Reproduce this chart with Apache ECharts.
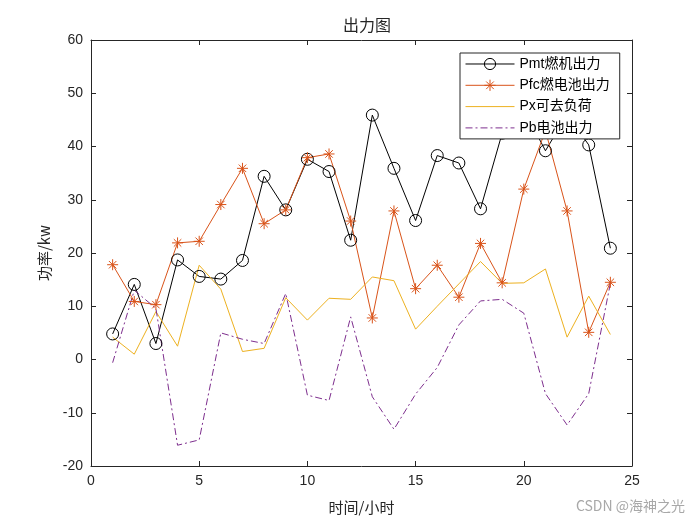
<!DOCTYPE html>
<html>
<head>
<meta charset="utf-8">
<script src="https://cdn.jsdelivr.net/npm/echarts@6/dist/echarts.min.js"></script>
<style>html,body{margin:0;padding:0;background:#fff}#c{width:700px;height:525px}</style>
</head>
<body>
<div id="c"></div>
<script>
var hours = [1,2,3,4,5,6,7,8,9,10,11,12,13,14,15,16,17,18,19,20,21,22,23,24];
var pmt = [4.8,14.1,3.0,18.7,15.6,15.1,18.6,34.4,28.1,37.6,35.3,22.4,45.9,35.9,26.1,38.3,36.9,28.3,42.5,47.0,39.2,46.0,40.3,20.9];
var pfc = [17.8,10.9,10.3,21.9,22.2,29.1,35.9,25.5,28.1,37.9,38.6,26.0,7.8,27.9,13.3,17.7,11.7,21.8,14.4,32.0,43.0,27.9,5.1,14.5];
var px  = [4.2,1.0,9.0,2.5,17.7,13.2,1.5,2.1,11.6,7.4,11.5,11.3,15.5,14.8,5.7,10.0,14.2,18.4,14.3,14.4,17.0,4.2,11.9,4.7];
var pb  = [-0.6,13.0,9.6,-16.1,-15.1,5.0,3.8,3.0,12.4,-6.7,-7.7,8.0,-7.0,-13.1,-6.5,-1.5,6.5,11.0,11.3,8.7,-6.4,-12.3,-6.4,14.3];
var seriesNames = ['Pmt燃机出力','Pfc燃电池出力','Px可去负荷','Pb电池出力'];
var xTicks = {min:0, max:25, interval:5};
var yTicks = {min:-20, max:60, interval:10};

function pairs(v){ return hours.map(function(h,i){ return [h, v[i]]; }); }

var axisColor = '#262626';
var latin = '"Liberation Sans", Arial, "Noto Sans CJK SC", sans-serif';
var cjk = '"Noto Sans CJK SC", "Liberation Sans", sans-serif';
var starPath = 'path://M0,5L10,5M5,0L5,10M1.6,1.6L8.4,8.4M8.4,1.6L1.6,8.4';
var clear = 'rgba(0,0,0,0)';

function xAx(pos, main){
  return {
    type:'value', position:pos, min:xTicks.min, max:xTicks.max, interval:xTicks.interval,
    axisLine:{show:true, onZero:false, lineStyle:{color:axisColor, width:1}},
    axisTick:{show:true, inside:true, length:5, lineStyle:{color:axisColor}},
    axisLabel:{show:main, fontSize:14, color:axisColor, fontFamily:latin, margin:8},
    splitLine:{show:false},
    name: main ? '时间/小时' : '', nameLocation:'middle', nameGap:34,
    nameTextStyle:{fontSize:15, color:axisColor, fontFamily:cjk}
  };
}
function yAx(pos, main){
  return {
    type:'value', position:pos, min:yTicks.min, max:yTicks.max, interval:yTicks.interval,
    axisLine:{show:true, onZero:false, lineStyle:{color:axisColor, width:1}},
    axisTick:{show:true, inside:true, length:5, lineStyle:{color:axisColor}},
    axisLabel:{show:main, fontSize:14, color:axisColor, fontFamily:latin, margin:8},
    splitLine:{show:false},
    name: main ? '功率/kw' : '', nameLocation:'middle', nameGap:38, nameRotate:90,
    nameTextStyle:{fontSize:15, color:axisColor, fontFamily:cjk}
  };
}

var chart = echarts.init(document.getElementById('c'), null, {renderer:'canvas'});
chart.setOption({
  animation:false,
  backgroundColor:'#fff',
  title:{text:'出力图', left:362, top:12, textAlign:'center',
    textStyle:{fontSize:16, fontWeight:'normal', color:axisColor, fontFamily:cjk}},
  grid:{left:91, right:68, top:40, bottom:59, containLabel:false},
  xAxis:[xAx('bottom', true), xAx('top', false)],
  yAxis:[yAx('left', true), yAx('right', false)],
  legend:{
    orient:'vertical', left:460, top:53, padding:[4,10,4,5], itemGap:7.3,
    itemWidth:49, itemHeight:14,
    backgroundColor:'#fff', borderColor:'#262626', borderWidth:1, borderRadius:0,
    itemStyle:{borderWidth:1},
    lineStyle:{width:1},
    textStyle:{fontSize:14, color:'#000', fontFamily:latin},
    data:seriesNames
  },
  graphic:[{type:'text', right:15, top:499,
    style:{text:'CSDN @海神之光', fontSize:14, fill:'#a8a8a8', fontFamily:cjk}}],
  series:[
    {name:seriesNames[0], type:'line', data:pairs(pmt), symbol:'circle', symbolSize:12,
     lineStyle:{color:'#000', width:1}, itemStyle:{color:clear, borderColor:'#000', borderWidth:1}},
    {name:seriesNames[1], type:'line', data:pairs(pfc), symbol:starPath, symbolSize:11,
     lineStyle:{color:'#D95319', width:1}, itemStyle:{color:clear, borderColor:'#D95319', borderWidth:1}},
    {name:seriesNames[2], type:'line', data:pairs(px), symbol:'circle', symbolSize:1, showSymbol:false,
     lineStyle:{color:'#EDB120', width:1}, itemStyle:{color:clear, borderColor:clear, borderWidth:0}},
    {name:seriesNames[3], type:'line', data:pairs(pb), symbol:'circle', symbolSize:1, showSymbol:false,
     lineStyle:{color:'#7E2F8E', width:1, type:[7,3,2,3]}, itemStyle:{color:clear, borderColor:clear, borderWidth:0}}
  ]
});
</script>
</body>
</html>
